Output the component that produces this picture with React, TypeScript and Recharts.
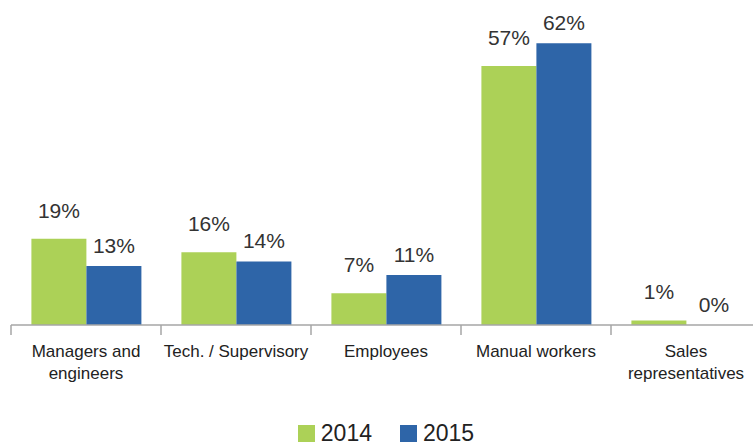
import React from 'react';
import { BarChart, Bar, XAxis, YAxis, Legend, LabelList } from 'recharts';

const categories = ['Managers and\nengineers', 'Tech. / Supervisory', 'Employees', 'Manual workers', 'Sales\nrepresentatives'];
const values2014 = [19, 16, 7, 57, 1];
const values2015 = [13, 14, 11, 62, 0];
const seriesNames = ['2014', '2015'];

const GREEN = '#acd157';
const BLUE = '#2e65a8';
const FONT = '"Liberation Sans", Arial, sans-serif';

const CHART_W = 770;
const CHART_H = 445;
const MARGIN = { top: 7, right: 9, bottom: 0, left: 11 };
const BAND = (CHART_W - MARGIN.left - MARGIN.right) / categories.length;

const data = categories.map((name, i) => ({
  name,
  y2014: values2014[i],
  y2015: values2015[i],
}));

function CategoryTick({ x, y, payload }: any) {
  const lines = String(payload.value).split('\n');
  return (
    <g>
      <line x1={x - BAND / 2} x2={x - BAND / 2} y1={y} y2={y + 10} stroke="#a6a6a6" strokeWidth={1.5} />
      <text x={x} y={y + 32} textAnchor="middle" fill="#222" fontSize={17} fontFamily={FONT}>
        {lines.map((l, i) => (
          <tspan key={i} x={x} dy={i === 0 ? 0 : 22}>{l}</tspan>
        ))}
      </text>
    </g>
  );
}

function LegendContent({ payload }: any) {
  return (
    <div style={{ display: 'flex', justifyContent: 'center', alignItems: 'center', height: 24, fontFamily: FONT }}>
      {(payload || []).map((p: any, i: number) => (
        <div key={i} style={{ display: 'flex', alignItems: 'center', marginRight: i === 0 ? 28 : 0 }}>
          <span style={{ width: 17, height: 17, background: p.color, display: 'inline-block', marginRight: 6 }} />
          <span style={{ fontSize: 23, color: '#222', lineHeight: '24px' }}>{p.value}</span>
        </div>
      ))}
    </div>
  );
}

export default function App() {
  return (
    <div style={{ position: 'absolute', left: 0, top: 0, width: 753, height: 445, overflow: 'hidden', background: '#fff' }}>
      <BarChart width={CHART_W} height={CHART_H} data={data} margin={MARGIN} barCategoryGap="13.6%" barGap={0}>
        <XAxis
          dataKey="name"
          axisLine={{ stroke: '#a6a6a6', strokeWidth: 1.5 }}
          tickLine={false}
          tickSize={0}
          tickMargin={0}
          interval={0}
          height={96}
          tick={<CategoryTick />}
        />
        <YAxis hide domain={[0, 70]} />
        <Legend verticalAlign="bottom" content={<LegendContent />} />
        <Bar dataKey="y2014" name={seriesNames[0]} fill={GREEN} isAnimationActive={false}>
          <LabelList dataKey="y2014" position="top" offset={21} formatter={(v: any) => `${v}%`}
            style={{ fill: '#333', fontSize: 21, fontFamily: FONT }} />
        </Bar>
        <Bar dataKey="y2015" name={seriesNames[1]} fill={BLUE} minPointSize={0.01} isAnimationActive={false}>
          <LabelList dataKey="y2015" position="top" offset={13} formatter={(v: any) => `${v}%`}
            style={{ fill: '#333', fontSize: 21, fontFamily: FONT }} />
        </Bar>
      </BarChart>
    </div>
  );
}
